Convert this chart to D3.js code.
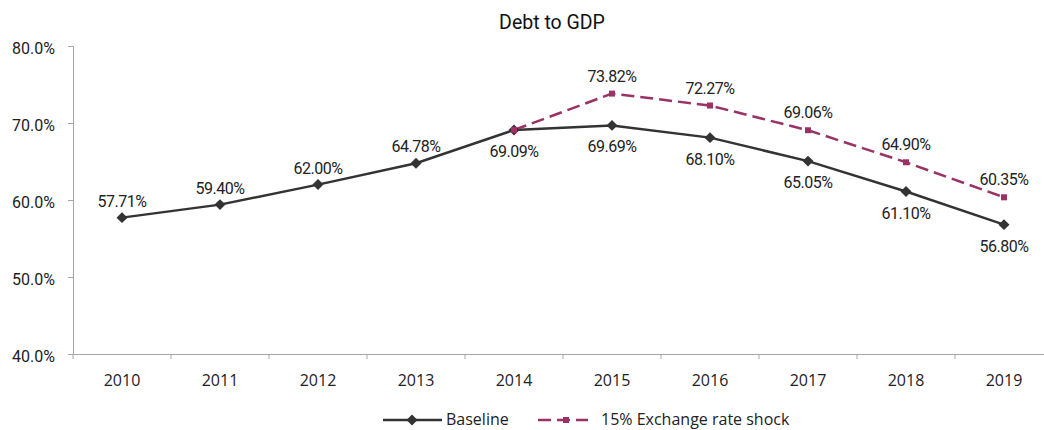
<!DOCTYPE html>
<html><head><meta charset="utf-8">
<script src="https://cdn.jsdelivr.net/npm/d3@7"></script>
<style>body{margin:0;background:#fff;}svg{display:block;font-family:Roboto,"DejaVu Sans",sans-serif;}</style>
</head><body>
<svg id="c" width="1044" height="430"></svg>
<script>
const years = ["2010","2011","2012","2013","2014","2015","2016","2017","2018","2019"];
const baseline = [57.71,59.40,62.00,64.78,69.09,69.69,68.10,65.05,61.10,56.80];
const shockYears = ["2014","2015","2016","2017","2018","2019"];
const shock = [69.09,73.82,72.27,69.06,64.90,60.35];
const yTicks = [40,50,60,70,80];
const baselineLabelAbove = [true,true,true,true,false,false,false,false,false,false];

const svg = d3.select("#c");
const pL = 73, pR = 1053, pT = 46, pB = 354;
const x = d3.scaleBand().domain(years).range([pL,pR]);
const y = d3.scaleLinear().domain([40,80]).range([pB,pT]);
const cx = d => x(d)+x.bandwidth()/2;
const axisColor = "#a6a6a6";
const rob = "Roboto,'DejaVu Sans',sans-serif";
const ops = "'Open Sans','DejaVu Sans',sans-serif";
const txt = "#222";

svg.append("text").attr("x",552).attr("y",29).attr("text-anchor","middle")
  .attr("font-size",19.5).attr("font-family",rob).attr("fill","#111").text("Debt to GDP");

// y axis
const ya = svg.append("g").attr("transform",`translate(${pL},0)`)
  .call(d3.axisLeft(y).tickValues(yTicks).tickSize(5).tickFormat(d=>d.toFixed(1)+"%"));
ya.select(".domain").attr("stroke",axisColor);
ya.selectAll(".tick line").attr("stroke",axisColor);
ya.selectAll(".tick text").attr("font-size",16).attr("fill",txt).attr("x",-18).attr("dy","0.45em").attr("font-family",rob);

// x axis
const xa = svg.append("g").attr("transform",`translate(0,${pB})`)
  .call(d3.axisBottom(x).tickSize(0).tickSizeOuter(0));
xa.select(".domain").attr("stroke",axisColor);
xa.selectAll(".tick text").attr("font-size",16).attr("fill",txt).attr("y",32).attr("dy",0).attr("font-family",ops);
xa.selectAll(".bt").data(years).enter().append("line")
  .attr("x1",d=>x(d)).attr("x2",d=>x(d)).attr("y1",0).attr("y2",5).attr("stroke",axisColor);

const line = d3.line().x(d=>cx(d[0])).y(d=>y(d[1]));
const bData = years.map((d,i)=>[d,baseline[i]]);
const sData = shockYears.map((d,i)=>[d,shock[i]]);
const shockColor = "#993366", baseColor = "#333333";

svg.append("path").datum(bData).attr("d",line).attr("fill","none")
  .attr("stroke",baseColor).attr("stroke-width",2.5);
svg.append("path").datum(sData).attr("d",line).attr("fill","none")
  .attr("stroke",shockColor).attr("stroke-width",2.5).attr("stroke-dasharray","13,6");

svg.selectAll(".bm").data(bData).enter().append("path")
  .attr("d",d3.symbol().type(d3.symbolSquare).size(60))
  .attr("transform",d=>`translate(${cx(d[0])},${y(d[1])}) rotate(45)`)
  .attr("fill",baseColor);
svg.selectAll(".sm").data(sData).enter().append("rect")
  .attr("x",d=>cx(d[0])-3).attr("y",d=>y(d[1])-3).attr("width",6).attr("height",6)
  .attr("fill",shockColor);

svg.selectAll(".bl").data(bData).enter().append("text")
  .attr("x",d=>cx(d[0])).attr("y",(d,i)=>baselineLabelAbove[i]? y(d[1])-11 : y(d[1])+27)
  .attr("text-anchor","middle").attr("font-size",16).attr("letter-spacing","-0.5px").attr("font-family",rob).attr("fill",txt)
  .text(d=>d[1].toFixed(2)+"%");
svg.selectAll(".sl").data(sData.slice(1)).enter().append("text")
  .attr("x",d=>cx(d[0])).attr("y",d=>y(d[1])-12)
  .attr("text-anchor","middle").attr("font-size",16).attr("letter-spacing","-0.5px").attr("font-family",rob).attr("fill",txt)
  .text(d=>d[1].toFixed(2)+"%");

const lg = svg.append("g");
lg.append("line").attr("x1",383).attr("x2",442).attr("y1",420).attr("y2",420).attr("stroke",baseColor).attr("stroke-width",2.5);
lg.append("path").attr("d",d3.symbol().type(d3.symbolSquare).size(60)).attr("transform","translate(412,420) rotate(45)").attr("fill",baseColor);
lg.append("text").attr("x",446).attr("y",425).attr("font-size",16).attr("font-family",ops).attr("fill",txt).text("Baseline");
lg.append("line").attr("x1",538).attr("x2",588).attr("y1",420).attr("y2",420).attr("stroke",shockColor).attr("stroke-width",2.5).attr("stroke-dasharray","13,6");
lg.append("rect").attr("x",563).attr("y",417).attr("width",6).attr("height",6).attr("fill",shockColor);
lg.append("text").attr("x",601).attr("y",425).attr("font-size",16).attr("font-family",ops).attr("fill",txt).text("15% Exchange rate shock");
</script>
</body></html>
